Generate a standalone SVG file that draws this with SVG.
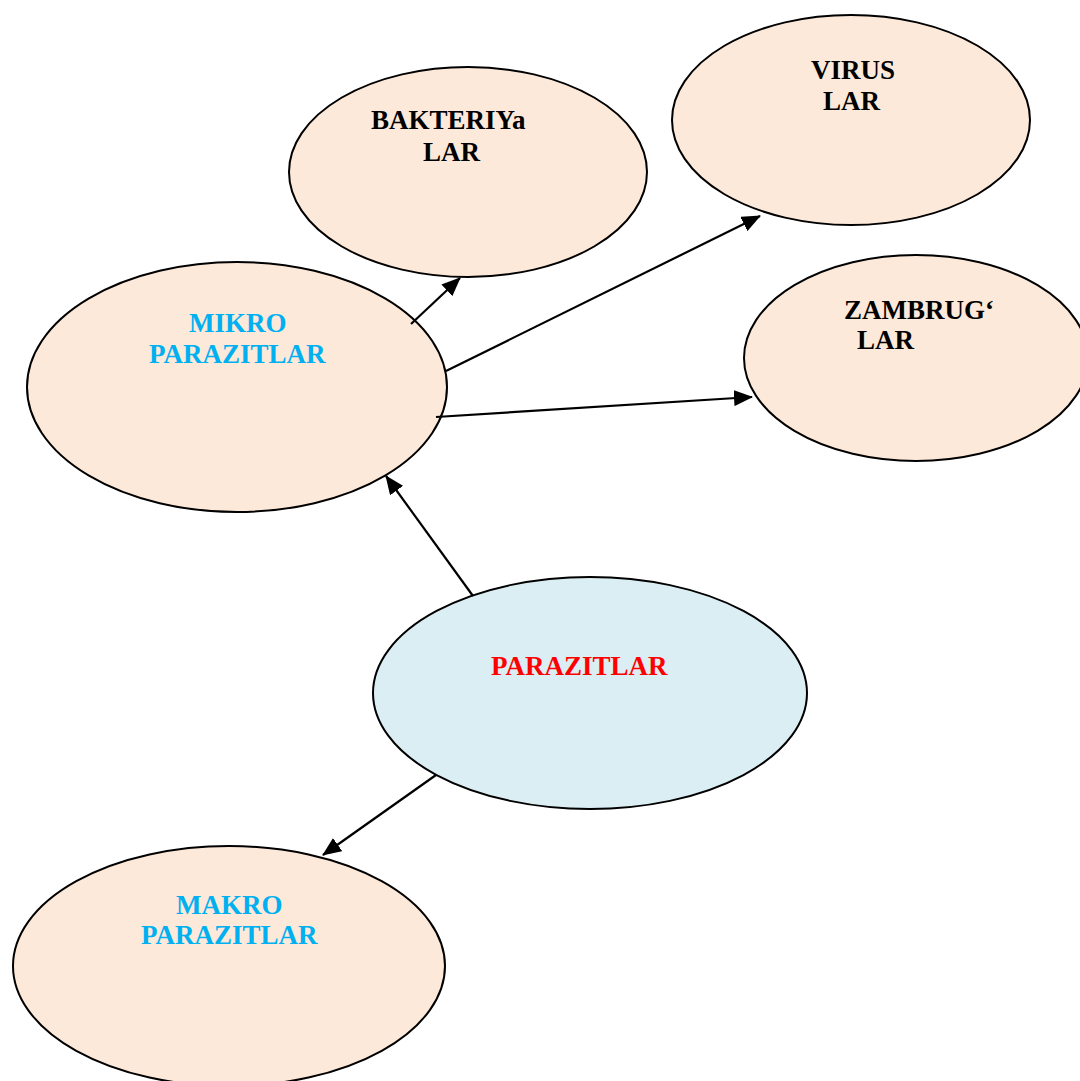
<svg xmlns="http://www.w3.org/2000/svg" width="1080" height="1081" viewBox="0 0 1080 1081">
  <style>
    .peach { fill: #FDE9D9; stroke: #000; stroke-width: 2; }
    .blue { fill: #DBEEF3; stroke: #000; stroke-width: 2; }
    text { font-family: "Liberation Serif", "Times New Roman", serif; font-weight: bold; font-size: 27px; }
    .dark { fill: #000; }
    .cyan { fill: #00B0F0; }
    .red { fill: #FF0000; }
    .link { stroke: #000; stroke-width: 2.2; fill: none; marker-end: url(#arrow); }
  </style>
  <defs>
    <marker id="arrow" markerUnits="userSpaceOnUse" markerWidth="20" markerHeight="16" refX="18" refY="8" orient="auto">
      <path d="M0,0 L19,8 L0,16 z" fill="#000"/>
    </marker>
  </defs>
  <rect width="1080" height="1081" fill="#fff"/>

  <g id="bakteriyalar">
    <ellipse class="peach" cx="468" cy="172" rx="179" ry="105"/>
    <text class="dark" x="371" y="129">BAKTERIYa</text>
    <text class="dark" x="423" y="161">LAR</text>
  </g>

  <g id="viruslar">
    <ellipse class="peach" cx="851" cy="120" rx="179" ry="105"/>
    <text class="dark" x="811" y="79">VIRUS</text>
    <text class="dark" x="823" y="110">LAR</text>
  </g>

  <g id="zamburuglar">
    <ellipse class="peach" cx="916" cy="358" rx="172" ry="103"/>
    <text class="dark" x="844" y="319">ZAMBRUG‘</text>
    <text class="dark" x="857" y="349">LAR</text>
  </g>

  <g id="mikroparazitlar">
    <ellipse class="peach" cx="237" cy="387" rx="210" ry="125"/>
    <text class="cyan" x="189" y="332">MIKRO</text>
    <text class="cyan" x="149" y="363">PARAZITLAR</text>
  </g>

  <g id="parazitlar">
    <ellipse class="blue" cx="590" cy="693" rx="217" ry="116"/>
    <text class="red" x="491" y="675">PARAZITLAR</text>
  </g>

  <g id="makroparazitlar">
    <ellipse class="peach" cx="229" cy="966" rx="216" ry="120"/>
    <text class="cyan" x="176" y="914">MAKRO</text>
    <text class="cyan" x="141" y="944">PARAZITLAR</text>
  </g>

  <g id="connectors">
    <line class="link" x1="411" y1="324" x2="460" y2="278"/>
    <line class="link" x1="446" y1="371" x2="760" y2="216"/>
    <line class="link" x1="436" y1="417" x2="752" y2="397"/>
    <line class="link" x1="473" y1="596" x2="386" y2="476"/>
    <line class="link" x1="436" y1="775" x2="323" y2="855"/>
  </g>
</svg>
